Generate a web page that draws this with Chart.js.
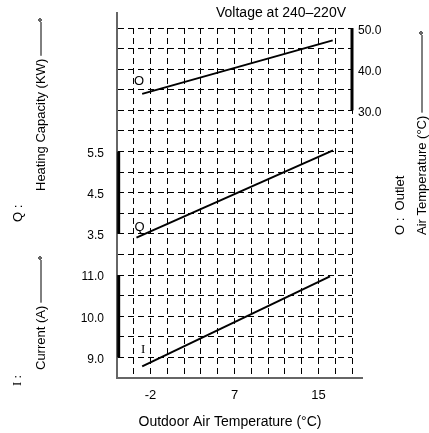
<!DOCTYPE html>
<html>
<head>
<meta charset="utf-8">
<script src="https://cdn.jsdelivr.net/npm/chart.js@4"></script>
<style>
html, body { margin: 0; padding: 0; background: #fff; }
</style>
</head>
<body>
<canvas id="chart" width="429" height="433"></canvas>
<script>
// outdoor temperature ticks, placed on grid columns
const tempCols = [2, 7, 12];
const tempLabels = ['-2', '7', '15'];

// scale ticks for each quantity
const currentTicks = [9.0, 10.0, 11.0];
const capacityTicks = [3.5, 4.5, 5.5];
const outletTicks = [30.0, 40.0, 50.0];

// the three curves (x in grid columns)
const outletLine = [{x: 1.5, y: 34.0}, {x: 12.85, y: 47.0}];
const capacityLine = [{x: 1.16, y: 3.41}, {x: 12.87, y: 5.53}];
const currentLine = [{x: 1.5, y: 8.78}, {x: 12.69, y: 10.97}];

// all three y scales share 17 grid rows, x has 14 columns
const ROWS = 17;
const COLS = 14;
const qMin = 0, qStep = 0.5;
const iMin = 8.5, iStep = 0.5;
const oMin = -35, oStep = 5;

const fmt = v => v.toFixed(1);
const has = (arr, v) => arr.some(a => Math.abs(a - v) < 1e-6);

const lineStyle = { borderColor: '#000', borderWidth: 2, pointRadius: 0, tension: 0, fill: false };
const barStyle = { borderColor: '#000', borderWidth: 3, pointRadius: 0, fill: false, clip: false };
const SANS = '"Liberation Sans", Arial, sans-serif';
const SERIF = '"Liberation Serif", "Times New Roman", serif';

function vtext(ctx, str, x, y, font) {
    ctx.save();
    ctx.translate(x, y);
    ctx.rotate(-Math.PI / 2);
    ctx.font = font;
    ctx.textAlign = 'left';
    ctx.textBaseline = 'middle';
    ctx.fillText(str, 0, 0);
    const w = ctx.measureText(str).width;
    ctx.restore();
    return w;
}

function leader(ctx, x, y0, y1) {
    ctx.beginPath();
    ctx.moveTo(x, y0);
    ctx.lineTo(x, y1);
    ctx.stroke();
    ctx.beginPath();
    ctx.arc(x - 1, y1 - 2, 1.3, 0, Math.PI * 2);
    ctx.stroke();
}

const textPlugin = {
    id: 'texts',
    afterDraw(chart) {
        const ctx = chart.ctx;
        const area = chart.chartArea;
        const xs = chart.scales.x;
        ctx.save();
        // axis lines run a little past the grid
        ctx.strokeStyle = '#666';
        ctx.lineWidth = 2;
        ctx.beginPath();
        ctx.moveTo(area.left, area.top);
        ctx.lineTo(area.left, area.top - 16);
        ctx.moveTo(area.right - 1, area.bottom);
        ctx.lineTo(area.right + 11, area.bottom);
        ctx.stroke();

        ctx.fillStyle = '#000';
        ctx.textAlign = 'center';
        ctx.textBaseline = 'middle';
        ctx.font = '14px ' + SANS;
        ctx.fillText('Voltage at 240\u2013220V', 281, 13);
        ctx.fillText('Outdoor Air Temperature (\u00B0C)', 230, 422);

        // curve names next to their starting points
        const tag = (str, pt, axis, dx, dy, font) => {
            ctx.font = font;
            ctx.fillText(str, xs.getPixelForValue(pt.x) + dx, chart.scales[axis].getPixelForValue(pt.y) + dy);
        };
        tag('O', outletLine[0], 'yO', -3, -12, '13px ' + SANS);
        tag('Q', capacityLine[0], 'yQ', 3, -10, '13px ' + SANS);
        tag('I', currentLine[0], 'yI', 1, -17, '13px ' + SERIF);

        // rotated axis captions
        ctx.strokeStyle = '#000';
        ctx.lineWidth = 1;
        vtext(ctx, 'Q :', 18, 222, '13px ' + SANS);
        let w = vtext(ctx, 'Heating Capacity (KW)', 41, 191, '13px ' + SANS);
        leader(ctx, 41, 191 - w - 3, 22);
        vtext(ctx, 'I :', 18, 386, '13px ' + SERIF);
        w = vtext(ctx, 'Current (A)', 41, 370, '13px ' + SANS);
        leader(ctx, 41, 370 - w - 3, 260);
        vtext(ctx, 'O :  Outlet', 400, 235, '13px ' + SANS);
        w = vtext(ctx, 'Air Temperature (\u00B0C)', 422, 235, '13px ' + SANS);
        leader(ctx, 422, 235 - w - 3, 35);
        ctx.restore();
    }
};

const rowTicks = (min, step) => scale => {
    scale.ticks = [];
    for (let r = 1; r <= ROWS; r++) scale.ticks.push({ value: min + r * step });
};

new Chart(document.getElementById('chart'), {
    type: 'line',
    data: {
        datasets: [
            { ...lineStyle, data: outletLine, yAxisID: 'yO' },
            { ...lineStyle, data: capacityLine, yAxisID: 'yQ' },
            { ...lineStyle, data: currentLine, yAxisID: 'yI' },
            { ...barStyle, data: [{x: COLS, y: outletTicks[0]}, {x: COLS, y: outletTicks[outletTicks.length - 1]}], yAxisID: 'yO' },
            { ...barStyle, data: [{x: 0.1, y: capacityTicks[0]}, {x: 0.1, y: capacityTicks[capacityTicks.length - 1]}], yAxisID: 'yQ' },
            { ...barStyle, data: [{x: 0.1, y: currentTicks[0]}, {x: 0.1, y: currentTicks[currentTicks.length - 1]}], yAxisID: 'yI' }
        ]
    },
    options: {
        responsive: false,
        animation: false,
        devicePixelRatio: 1,
        layout: { padding: { top: 28, left: 0, right: 0, bottom: 0 } },
        plugins: { legend: { display: false }, tooltip: { enabled: false } },
        scales: {
            x: {
                type: 'linear',
                min: 0,
                max: COLS,
                afterFit: s => { s.height = 55; },
                afterBuildTicks: s => {
                    s.ticks = [];
                    for (let c = 1; c <= COLS; c++) s.ticks.push({ value: c });
                },
                grid: { color: '#000', lineWidth: 1, drawTicks: false },
                border: { display: true, color: '#666', width: 2, dash: [6, 4] },
                ticks: {
                    autoSkip: false,
                    maxRotation: 0,
                    padding: 10,
                    color: '#000',
                    font: { family: SANS, size: 13 },
                    callback: v => {
                        const i = tempCols.indexOf(v);
                        return i >= 0 ? tempLabels[i] : '';
                    }
                }
            },
            yQ: {
                type: 'linear',
                position: 'left',
                min: qMin,
                max: qMin + ROWS * qStep,
                afterFit: s => { s.width = 117; },
                afterBuildTicks: rowTicks(qMin, qStep),
                grid: { color: '#000', lineWidth: 1, drawTicks: false },
                border: { display: true, color: '#666', width: 2, dash: [6, 4] },
                ticks: {
                    autoSkip: false,
                    padding: 13,
                    labelOffset: 2,
                    color: '#000',
                    font: { family: SANS, size: 12 },
                    callback: v => {
                        if (has(capacityTicks, v)) return fmt(v);
                        const iv = v - qMin + iMin;
                        if (has(currentTicks, iv)) return fmt(iv);
                        return '';
                    }
                }
            },
            yI: {
                type: 'linear',
                display: false,
                min: iMin,
                max: iMin + ROWS * iStep
            },
            yO: {
                type: 'linear',
                position: 'right',
                min: oMin,
                max: oMin + ROWS * oStep,
                afterFit: s => { s.width = 77; },
                afterBuildTicks: s => { s.ticks = outletTicks.map(v => ({ value: v })); },
                grid: { display: false, drawTicks: false },
                border: { display: false },
                ticks: {
                    padding: 6,
                    labelOffset: 2.5,
                    color: '#000',
                    font: { family: SANS, size: 12 },
                    callback: v => fmt(v)
                }
            }
        }
    },
    plugins: [textPlugin]
});
</script>
</body>
</html>
